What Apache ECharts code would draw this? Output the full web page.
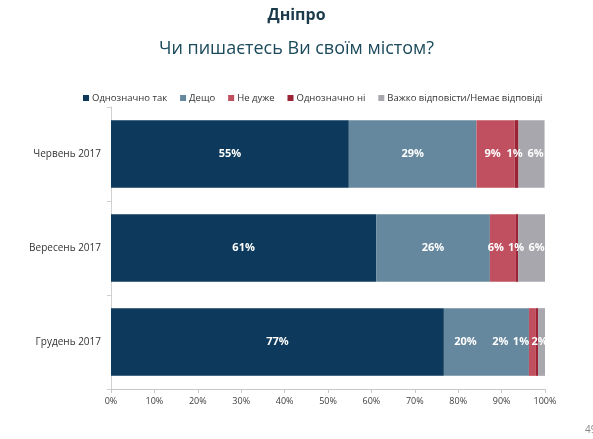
<!DOCTYPE html>
<html>
<head>
<meta charset="utf-8">
<script src="https://cdn.jsdelivr.net/npm/echarts@6/dist/echarts.min.js"></script>
<style>html,body{margin:0;padding:0;background:#fff}#c{width:593px;height:439px}</style>
</head>
<body>
<div id="c"></div>
<script>
// ---- data ----
var categories = ['Червень 2017', 'Вересень 2017', 'Грудень 2017'];
var seriesNames = ['Однозначно так', 'Дещо', 'Не дуже', 'Однозначно ні', 'Важко відповісти/Немає відповіді'];
var valYes      = [54.8, 61.1, 76.7];
var valSomewhat = [29.4, 26.2, 19.6];
var valNotReally= [8.8, 6.0, 1.6];
var valNo       = [0.9, 0.5, 0.5];
var valHard     = [6.0, 6.2, 1.6];
var xTicks = [0, 10, 20, 30, 40, 50, 60, 70, 80, 90, 100];

// ---- styling ----
var colors = ['#0D3A5C', '#66889E', '#C0505F', '#9B2335', '#A8A7AD'];
// per-segment label nudges (px) to mimic the reference label placement
var labelOffsets = [
  [[0,0],[0,0],[0,0]],
  [[0,0],[0,0],[-21,0]],
  [[-3,0],[-7,0],[-32,0]],
  [[-2,0],[-1,0],[-16,0]],
  [[4,0],[5,0],[-2,0]]
];
var allVals = [valYes, valSomewhat, valNotReally, valNo, valHard];
var font = 'Open Sans';

var series = seriesNames.map(function(name, si){
  return {
    name: name,
    type: 'bar',
    stack: 'total',
    barCategoryGap: '28%',
    itemStyle: {color: colors[si]},
    label: {
      show: true,
      position: 'inside',
      color: '#fff',
      fontFamily: font,
      fontSize: 11,
      fontWeight: 'bold',
      formatter: function(p){ return Math.round(p.value) + '%'; }
    },
    data: allVals[si].map(function(v, ci){
      return {value: v, label: {offset: labelOffsets[si][ci]}};
    })
  };
});

var chart = echarts.init(document.getElementById('c'));
chart.setOption({
  animation: false,
  backgroundColor: '#fff',
  title: [
    {text: 'Дніпро', left: 'center', top: 2,
     textStyle: {fontFamily: font, fontSize: 16, fontWeight: 'bold', color: '#1B3A4B'}},
    {text: 'Чи пишаєтесь Ви своїм містом?', left: 'center', top: 35,
     textStyle: {fontFamily: font, fontSize: 18, fontWeight: 'normal', color: '#1B4A5C'}}
  ],
  legend: {
    top: 88, left: 78,
    itemWidth: 6, itemHeight: 6, itemGap: 13,
    icon: 'rect',
    textStyle: {fontFamily: font, fontSize: 9.5, color: '#333', padding: [0,0,0,-2]},
    data: seriesNames
  },
  grid: {left: 111, right: 48, top: 107, bottom: 50},
  xAxis: {
    type: 'value', min: xTicks[0], max: xTicks[xTicks.length-1], interval: xTicks[1]-xTicks[0],
    splitLine: {show: false},
    axisLine: {show: true, lineStyle: {color: '#C8C8C8'}},
    axisTick: {show: true, length: 4, lineStyle: {color: '#C8C8C8'}},
    axisLabel: {fontFamily: font, fontSize: 9, color: '#404040', margin: 8, formatter: '{value}%'}
  },
  yAxis: {
    type: 'category', inverse: true, data: categories,
    axisLine: {show: true, lineStyle: {color: '#D0D0D0'}},
    axisTick: {show: true, length: 4, lineStyle: {color: '#D0D0D0'}},
    axisLabel: {fontFamily: font, fontSize: 10, color: '#333', margin: 10}
  },
  graphic: [
    {type: 'text', left: 585, top: 425, style: {text: '49', fontFamily: font, fontSize: 10, fill: '#888'}}
  ],
  series: series
});
</script>
</body>
</html>
